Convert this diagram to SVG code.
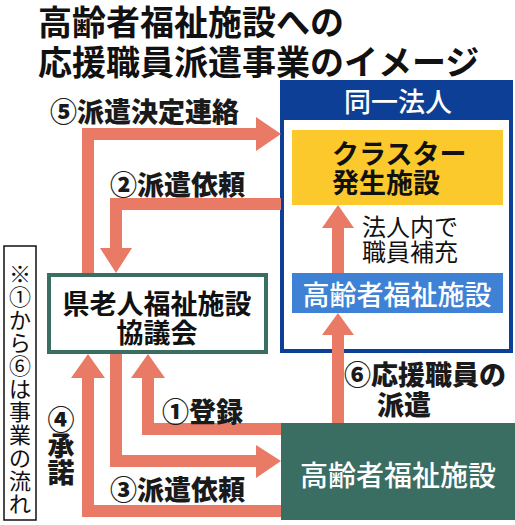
<svg xmlns="http://www.w3.org/2000/svg" width="515" height="525" viewBox="0 0 515 525">
<style>
text{font-family:"Noto Sans CJK JP","Noto Sans CJK SC",sans-serif;dominant-baseline:central}
.title{font-size:34px;font-weight:700;fill:#111}
.lbl{font-size:27px;font-weight:900;fill:#1a1a1a}
.shaft{fill:none;stroke:#e97a66;stroke-width:12;stroke-linejoin:miter}
.head{fill:#e97a66}
.wt{fill:#fff}
</style>
<rect width="515" height="525" fill="#fff"/>
<g id="title">
<text class="title" x="38" y="20">高齢者福祉施設への</text>
<text class="title" x="38" y="60">応援職員派遣事業のイメージ</text>
</g>
<g id="houjin">
<rect x="282" y="82" width="229" height="269" fill="#fff" stroke="#0c3f95" stroke-width="4"/>
<rect x="280" y="80" width="233" height="40" fill="#0c3f95"/>
<text x="398" y="100" font-size="27" font-weight="500" class="wt" text-anchor="middle">同一法人</text>
</g>
<g id="connectors">
<path class="shaft" d="M88,273 V134 H258"/>
<polygon class="head" points="256,117 281,134 256,151"/>
<path class="shaft" d="M281,204 H116 V250"/>
<polygon class="head" points="100,248 132,248 116,273"/>
<path class="shaft" d="M281,429 H148 V376"/>
<polygon class="head" points="131,378 165,378 148,354"/>
<path class="shaft" d="M116,353 V461 H258"/>
<polygon class="head" points="256,445 281,461 256,478"/>
<path class="shaft" d="M281,511 H88 V376"/>
<polygon class="head" points="71,378 105,378 88,354"/>
<path class="shaft" d="M338,423 V334"/>
<polygon class="head" points="322,335 354,335 338,313"/>
<path class="shaft" d="M338,273 V226"/>
<polygon class="head" points="322,228 354,228 338,205"/>
</g>
<g id="labels">
<text class="lbl" x="50" y="110">⑤派遣決定連絡</text>
<text class="lbl" x="110" y="183">②派遣依頼</text>
<text class="lbl" x="162" y="410">①登録</text>
<text class="lbl" x="110" y="488">③派遣依頼</text>
<text class="lbl" x="61" y="418" text-anchor="middle">④</text>
<text class="lbl" x="61" y="444" text-anchor="middle">承</text>
<text class="lbl" x="61" y="471" text-anchor="middle">諾</text>
<text class="lbl" x="344" y="373" font-size="28">⑥応援職員の</text>
<text class="lbl" x="377" y="403" font-size="28">派遣</text>
</g>
<g id="cluster">
<rect x="292" y="130" width="211" height="75" fill="#fbc92c"/>
<text x="332" y="152" font-size="27" font-weight="700" fill="#111">クラスター</text>
<text x="332" y="181" font-size="27" font-weight="700" fill="#111">発生施設</text>
</g>
<g id="note-inner">
<text x="362" y="225" font-size="24" fill="#111">法人内で</text>
<text x="362" y="250" font-size="24" fill="#111">職員補充</text>
</g>
<g id="inner-facility">
<rect x="292" y="273" width="211" height="40" fill="#3f82d5"/>
<text x="397" y="293" font-size="27" font-weight="500" class="wt" text-anchor="middle">高齢者福祉施設</text>
</g>
<g id="kyogikai">
<rect x="49" y="275" width="217" height="77" fill="#fff" stroke="#3b6e63" stroke-width="4"/>
<text x="157" y="302" font-size="27" font-weight="700" fill="#111" text-anchor="middle">県老人福祉施設</text>
<text x="157" y="331" font-size="27" font-weight="700" fill="#111" text-anchor="middle">協議会</text>
</g>
<g id="facility">
<rect x="281" y="423" width="234" height="97" fill="#3b6e63"/>
<text x="398" y="474" font-size="28" font-weight="500" class="wt" text-anchor="middle">高齢者福祉施設</text>
</g>
<g id="note">
<rect x="4" y="246" width="32" height="274" fill="#fff" stroke="#111" stroke-width="1.5"/>
<text font-size="22" fill="#111" text-anchor="middle"><tspan x="20" y="272">※</tspan><tspan x="20" y="295">①</tspan><tspan x="20" y="318">か</tspan><tspan x="20" y="341">ら</tspan><tspan x="20" y="364">⑥</tspan><tspan x="20" y="387">は</tspan><tspan x="20" y="410">事</tspan><tspan x="20" y="433">業</tspan><tspan x="20" y="456">の</tspan><tspan x="20" y="479">流</tspan><tspan x="20" y="502">れ</tspan></text>
</g>
</svg>
